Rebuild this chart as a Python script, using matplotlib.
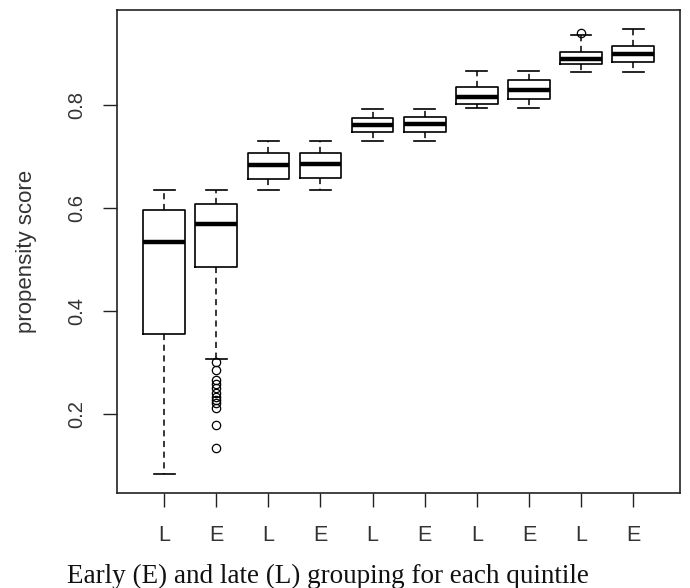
import matplotlib
matplotlib.use("Agg")
import matplotlib.pyplot as plt

groups = ["L", "E", "L", "E", "L", "E", "L", "E", "L", "E"]
medians = [0.534, 0.568, 0.683, 0.686, 0.761, 0.764, 0.816, 0.829, 0.889, 0.899]
q1 = [0.354, 0.485, 0.657, 0.659, 0.747, 0.747, 0.803, 0.812, 0.880, 0.884]
q3 = [0.596, 0.607, 0.707, 0.707, 0.774, 0.777, 0.836, 0.849, 0.904, 0.915]
whisker_low = [0.082, 0.307, 0.635, 0.635, 0.730, 0.730, 0.794, 0.794, 0.865, 0.865]
whisker_high = [0.635, 0.635, 0.730, 0.730, 0.792, 0.792, 0.866, 0.866, 0.936, 0.948]
outliers = [
    [],
    [0.300, 0.284, 0.265, 0.257, 0.249, 0.240, 0.232, 0.226, 0.220, 0.210, 0.177, 0.133],
    [], [], [], [], [], [],
    [0.941],
    [],
]
y_ticks = [0.2, 0.4, 0.6, 0.8]

stats = []
for i, g in enumerate(groups):
    stats.append(dict(med=medians[i], q1=q1[i], q3=q3[i],
                      whislo=whisker_low[i], whishi=whisker_high[i],
                      fliers=outliers[i], label=g))

fig = plt.figure(figsize=(6.9, 5.88), dpi=100)
ax = fig.add_axes([0.170, 0.162, 0.8155, 0.821])

ax.bxp(stats, positions=range(1, len(groups) + 1), widths=0.8,
       boxprops=dict(color="black", linewidth=1.2),
       medianprops=dict(color="black", linewidth=3.2, solid_capstyle="butt"),
       whiskerprops=dict(color="black", linewidth=1.1, linestyle=(0, (4, 3))),
       capprops=dict(color="black", linewidth=1.2),
       flierprops=dict(marker="o", markersize=6, markerfacecolor="none",
                       markeredgecolor="black", markeredgewidth=0.9),
       capwidths=0.4)

ax.set_xlim(0.1, 10.9)
ax.set_ylim(0.046, 0.985)
ax.set_yticks(y_ticks)
ax.set_yticklabels([f"{t:.1f}" for t in y_ticks], rotation=90, va="center",
                   fontsize=14.5, family="Liberation Sans", color="#333333")
ax.set_xticks(range(1, len(groups) + 1))
ax.set_xticklabels(groups, fontsize=15.5, family="Liberation Sans", color="#333333")
ax.tick_params(axis="both", direction="out", length=10, width=1.0, color="#222222")
ax.tick_params(axis="x", pad=13)
ax.tick_params(axis="y", pad=12)
for s in ax.spines.values():
    s.set_linewidth(1.2)
    s.set_color("#222222")

ax.set_ylabel("propensity score", fontsize=16, family="Liberation Sans",
              color="#333333", labelpad=22)
fig.text(0.475, 0.0085, "Early (E) and late (L) grouping for each quintile",
         ha="center", va="baseline", fontsize=19.5, family="Liberation Serif",
         color="#111111")

fig.savefig("out.png", dpi=100)
